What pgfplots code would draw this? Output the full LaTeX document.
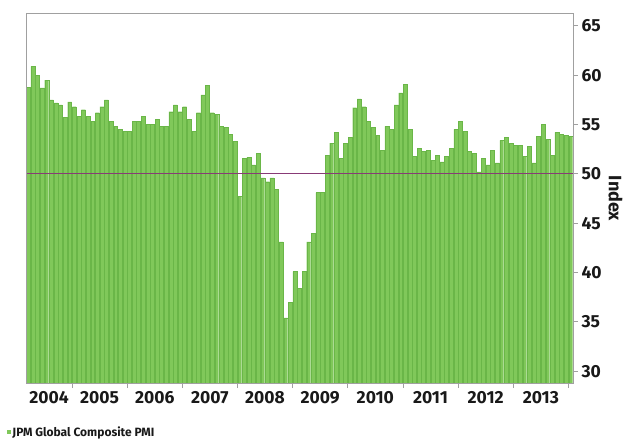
\documentclass[border=0pt]{standalone}
\usepackage{fontspec}
\setmainfont{Fira Sans}
\usepackage{pgfplots}
\usepackage{pgfplotstable}
\pgfplotsset{compat=1.18}

\definecolor{pmigreen}{RGB}{128,200,90}
\definecolor{pmiedge}{RGB}{106,182,72}
\definecolor{refline}{RGB}{136,58,118}
\definecolor{axisgray}{RGB}{160,160,160}
\definecolor{txt}{RGB}{25,25,25}

% Monthly index, m = months since Jan 2004 (0 = Jan 2004)
\pgfplotstableread{
m v
2 58.8
3 60.9
4 60.0
5 58.7
6 59.5
7 57.5
8 57.2
9 57.0
10 55.7
11 57.3
12 56.8
13 55.8
14 56.5
15 55.8
16 55.3
17 56.2
18 56.8
19 57.5
20 55.3
21 54.8
22 54.5
23 54.3
24 54.3
25 55.3
26 55.3
27 55.8
28 55.0
29 55.0
30 55.5
31 54.8
32 54.8
33 56.3
34 57.0
35 56.3
36 56.8
37 55.5
38 54.3
39 56.2
40 58.0
41 59.0
42 56.2
43 56.0
44 54.8
45 54.7
46 54.0
47 53.3
48 47.7
49 51.6
50 51.7
51 50.9
52 52.1
53 49.6
54 49.2
55 49.6
56 48.4
57 43.1
58 35.4
59 37.0
60 40.1
61 38.4
62 40.1
63 43.1
64 44.0
65 48.1
66 48.1
67 51.9
68 53.1
69 54.2
70 51.6
71 53.1
72 53.7
73 56.7
74 57.6
75 56.8
76 55.3
77 54.7
78 53.9
79 52.4
80 54.8
81 54.5
82 57.0
83 58.2
84 59.1
85 54.5
86 51.8
87 52.6
88 52.3
89 52.4
90 51.4
91 51.9
92 51.2
93 51.8
94 52.6
95 54.5
96 55.3
97 54.3
98 52.3
99 52.1
100 50.2
101 51.6
102 50.9
103 52.4
104 51.1
105 53.4
106 53.7
107 53.1
108 52.9
109 52.9
110 51.8
111 52.8
112 51.1
113 53.8
114 55.0
115 53.5
116 51.9
117 54.2
118 54.0
119 53.9
120 53.8
}\pmidata

\begin{document}
\begin{tikzpicture}
\begin{axis}[
  name=ax,
  scale only axis,
  width=547pt, height=369pt,
  xmin=1.5, xmax=120.5,
  ymin=28.8, ymax=66.2,
  axis on top,
  axis line style={axisgray, line width=1pt},
  tick style={axisgray, line width=0.8pt},
  tick align=outside,
  major tick length=5pt,
  minor tick length=5pt,
  ytick={30,35,...,65},
  yticklabel pos=right,
  ytick pos=right,
  xtick pos=bottom,
  xtick={6.5,17.5,29.5,41.5,53.5,65.5,77.5,89.5,101.5,113.5},
  xticklabels={2004,2005,2006,2007,2008,2009,2010,2011,2012,2013},
  major x tick style={draw=none},
  minor xtick={11.5,23.5,...,119.5},
  /pgf/number format/assume math mode=true,
  ticklabel style={text=txt, font=\bfseries\fontsize{17.5}{17.5}\selectfont},
  ylabel={Index},
  ylabel style={rotate=180, text=txt, font=\bfseries\fontsize{18}{18}\selectfont},
  legend style={at={(rel axis cs:0,0)}, anchor=west, xshift=-19pt, yshift=-49pt,
    draw=none, fill=none, inner sep=0pt, text=txt,
    font=\bfseries\fontsize{12}{12}\selectfont},
  legend image code/.code={\fill[pmigreen] (1pt,-1.5pt) rectangle (4pt,1.5pt);},
]
\addplot[ybar, bar width=0.86, bar shift=0pt, fill=pmigreen, draw=pmiedge,
  line width=0.3pt] table[x=m, y=v] {\pmidata};
\addlegendentry{JPM Global Composite PMI}
\addplot[forget plot, refline, line width=1.2pt] coordinates {(1.5,50) (120.5,50)};
\end{axis}
\pgfresetboundingbox
\path[use as bounding box] ([xshift=-26pt,yshift=-58pt]ax.south west)
  rectangle ([xshift=52pt,yshift=14pt]ax.north east);
\end{tikzpicture}
\end{document}
